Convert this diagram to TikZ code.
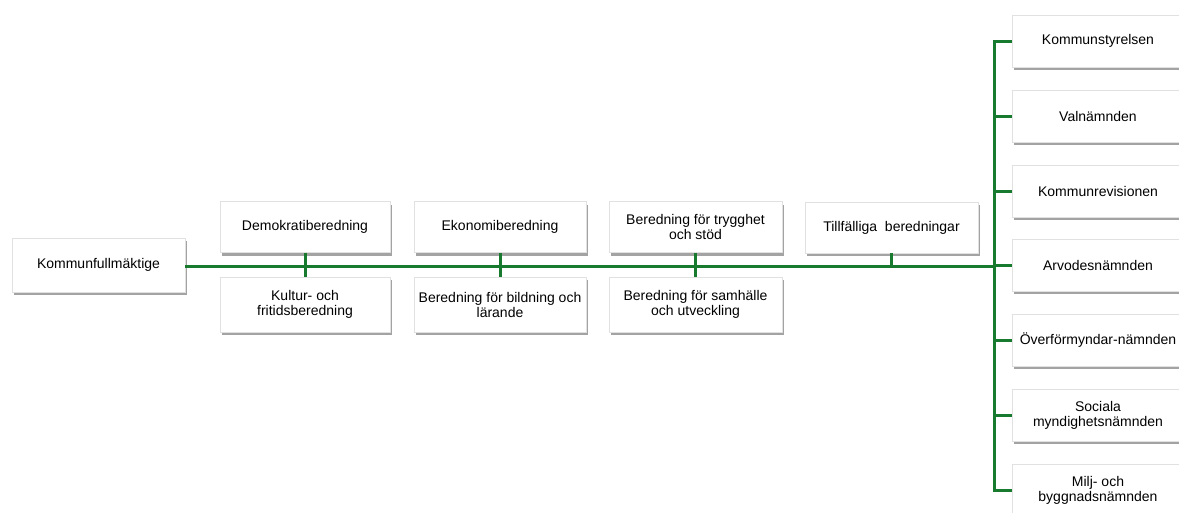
\documentclass[tikz,border=0pt]{standalone}
\usepackage{fontspec}
\setmainfont{Liberation Sans}
\usetikzlibrary{shadows}
\definecolor{lgreen}{RGB}{24,122,46}
\definecolor{bordergray}{RGB}{225,225,225}
\begin{document}
\begin{tikzpicture}[x=1pt,y=-1pt,
  box/.style={draw=bordergray, line width=0.6pt, fill=white, align=center,
    inner sep=1pt, font=\fontsize{14}{15}\selectfont,
    drop shadow={shadow xshift=1.5pt, shadow yshift=-3pt, fill=black!60, opacity=0.6}},
  hbox/.style={box, minimum width=172pt, minimum height=51pt},
  rbox/.style={box, minimum width=172pt, minimum height=52pt},
  conn/.style={draw=lgreen, line width=3pt}]
\useasboundingbox (0,0) rectangle (1179,512);
\clip (0,0) rectangle (1179,512);
% left
\node[box, minimum width=173pt, minimum height=54pt] (kf) at (98.5,265) {Kommunfullmäktige};
% committees
\node[hbox, minimum width=170pt] (demo) at (305,227) {Demokratiberedning};
\node[hbox, minimum width=170pt, minimum height=55pt] (kult) at (305,304.5) {Kultur- och\\fritidsberedning};
\node[hbox] (eko) at (500,227) {Ekonomiberedning};
\node[hbox, minimum height=55pt] (bild) at (500,304.5) {Beredning för bildning och\\lärande};
\node[hbox, minimum width=173pt] (tryg) at (695.5,227) {Beredning för trygghet\\och stöd};
\node[hbox, minimum width=173pt, minimum height=55pt] (samh) at (695.5,304.5) {Beredning för samhälle\\och utveckling};
\node[hbox, minimum width=173pt] (till) at (891.5,227.5) {Tillfälliga\ \ beredningar};
% right column
\node[rbox] (r1) at (1098,41) {Kommunstyrelsen};
\node[rbox] (r2) at (1098,116) {Valnämnden};
\node[rbox] (r3) at (1098,191) {Kommunrevisionen};
\node[rbox] (r4) at (1098,265) {Arvodesnämnden};
\node[rbox] (r5) at (1098,340) {Överförmyndar-nämnden};
\node[rbox] (r6) at (1098,415) {Sociala\\myndighetsnämnden};
\node[rbox] (r7) at (1098,490) {Milj- och\\byggnadsnämnden};
\coordinate (bus) at (994,266);
% connectors
\draw[conn] (kf.east |- bus) -- (bus);
\draw[conn] (demo.south) -- (kult.north);
\draw[conn] (eko.south) -- (bild.north);
\draw[conn] (tryg.south) -- (samh.north);
\draw[conn] (till.south) -- (till.south |- bus);
\draw[conn] (r1.west) -- (r1.west -| bus) -- (r7.west -| bus) -- (r7.west);
\foreach \n in {r2,r3,r4,r5,r6}{
  \draw[conn] (\n.west) -- (\n.west -| bus);
}
\end{tikzpicture}
\end{document}
